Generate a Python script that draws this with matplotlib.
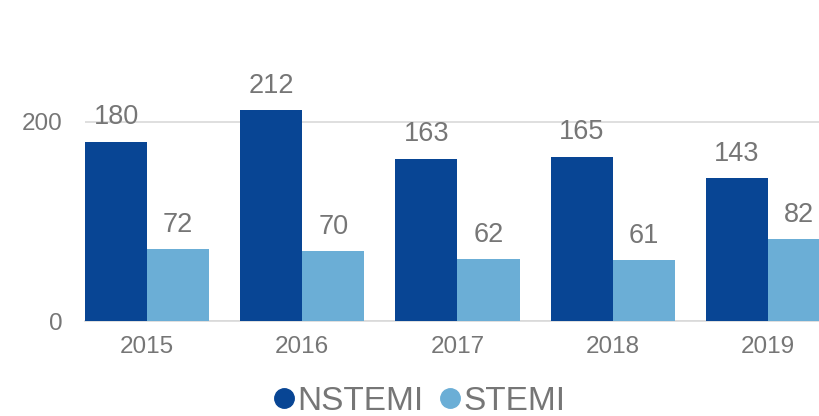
import matplotlib
matplotlib.use("Agg")
import matplotlib.pyplot as plt
from matplotlib.lines import Line2D
import numpy as np

years = ["2015", "2016", "2017", "2018", "2019"]
nstemi = [180, 212, 163, 165, 143]
stemi = [72, 70, 62, 61, 82]
series_names = ["NSTEMI", "STEMI"]
colors = ["#084594", "#6BAED6"]
text_color = "#767676"

plt.rcParams['font.family'] = ['Liberation Sans', 'DejaVu Sans']

W, H = 820, 416
fig = plt.figure(figsize=(W / 100, H / 100), dpi=100)
# axes in pixel coords
left, right = 85.0, 830.0
bottom_px, top_px = 321.0, 22.0
ax = fig.add_axes([left / W, (H - bottom_px) / H, (right - left) / W, (bottom_px - top_px) / H])

x = np.arange(len(years))
bw = 0.4
b1 = ax.bar(x - bw / 2, nstemi, bw, color=colors[0], zorder=3)
b2 = ax.bar(x + bw / 2, stemi, bw, color=colors[1], zorder=3)

for bars in (b1, b2):
    for r in bars:
        ax.annotate(f"{int(r.get_height())}", (r.get_x() + r.get_width() / 2, r.get_height()),
                    xytext=(0, 8), textcoords="offset points", ha="center", va="bottom",
                    fontsize=19.5, color=text_color)

ax.set_xlim(-0.4, len(years) - 0.6)
ax.set_ylim(0, 300)
ax.set_yticks([0, 200])
ax.set_xticks(x)
ax.set_xticklabels(years)
ax.tick_params(axis="both", length=0, labelsize=17.5, colors=text_color)
ax.tick_params(axis="x", pad=11)
ax.tick_params(axis="y", pad=16)
ax.yaxis.grid(True, color="#D9D9D9", linewidth=1.2, zorder=0)
for s in ["top", "right", "left"]:
    ax.spines[s].set_visible(False)
ax.spines["bottom"].set_color("#D9D9D9")
ax.spines["bottom"].set_linewidth(1.2)

handles = [Line2D([0], [0], marker="o", linestyle="", markersize=14,
                  markerfacecolor=c, markeredgecolor=c) for c in colors]
leg = fig.legend(handles, series_names, loc="center", bbox_to_anchor=(420 / W, 1 - 401 / H),
                 ncol=2, frameon=False, fontsize=24, handletextpad=0.1,
                 columnspacing=0.5, handlelength=0.6, borderpad=0.0, borderaxespad=0.0)
for t in leg.get_texts():
    t.set_color(text_color)

fig.savefig("out.png", dpi=100)
